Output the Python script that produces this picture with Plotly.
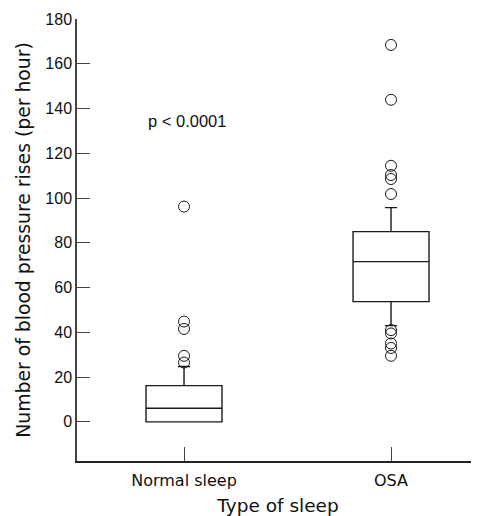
import plotly.graph_objects as go

categories = ["Normal sleep", "OSA"]
q1 = [0, 53.7]
median = [6.1, 71.6]
q3 = [16.2, 85.0]
lower_fence = [0, 43.0]
upper_fence = [24.7, 95.7]
outliers_normal = [26.5, 29.5, 41.5, 44.8, 96.2]
outliers_osa = [29.5, 33.0, 35.0, 39.5, 41.0, 101.8, 108.5, 110.3, 114.4, 143.9, 168.4]
y_ticks = [0, 20, 40, 60, 80, 100, 120, 140, 160, 180]

num_font = "Liberation Sans, Arial, sans-serif"
txt_font = "DejaVu Sans, sans-serif"

fig = go.Figure()
fig.add_trace(go.Box(
    x=categories, q1=q1, median=median, q3=q3,
    lowerfence=lower_fence, upperfence=upper_fence,
    boxpoints=False, width=0.367, whiskerwidth=0.16,
    fillcolor="rgba(0,0,0,0)",
    line=dict(color="#1a1a1a", width=1.4),
    showlegend=False, hoverinfo="skip",
))
for cat, vals in zip(categories, [outliers_normal, outliers_osa]):
    fig.add_trace(go.Scatter(
        x=[cat] * len(vals), y=vals, mode="markers",
        marker=dict(symbol="circle-open", size=11, color="#1a1a1a", line=dict(width=1)),
        showlegend=False, hoverinfo="skip",
    ))

fig.add_annotation(x=categories[0], y=134.5, text="p < 0.0001", showarrow=False,
                   xanchor="center", yanchor="middle", xshift=3,
                   font=dict(family=num_font, size=16.5, color="#111"))

fig.update_layout(
    width=471, height=508,
    margin=dict(l=69, r=0, t=11, b=55),
    paper_bgcolor="white", plot_bgcolor="white",
    font=dict(family=num_font, size=16, color="#111"),
)
fig.update_xaxes(
    type="category", categoryorder="array", categoryarray=categories,
    range=[-0.517, 1.425], automargin=False,
    showline=True, linecolor="#222", linewidth=1.5,
    ticks="inside", ticklen=14, tickcolor="#444", tickwidth=1.3,
    ticklabelstandoff=4,
    showgrid=False, zeroline=False,
    tickfont=dict(family=txt_font, size=16, color="#111"),
    title=dict(text="Type of sleep", font=dict(family=txt_font, size=18.5, color="#111"), standoff=10),
)
fig.update_yaxes(
    range=[-17.5, 180], automargin=False,
    tickvals=y_ticks, ticktext=[str(v) for v in y_ticks],
    showline=True, linecolor="#444", linewidth=1.5,
    ticks="inside", ticklen=13, tickcolor="#444", tickwidth=1.3,
    showgrid=False, zeroline=False,
    tickfont=dict(family=num_font, size=16, color="#111"),
    title=dict(text="Number of blood pressure rises (per hour)",
               font=dict(family=txt_font, size=18.8, color="#111"), standoff=10),
)

fig.write_html("out.html")
